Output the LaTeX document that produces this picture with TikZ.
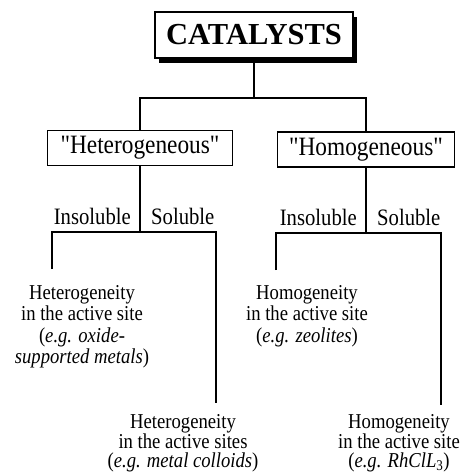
\documentclass[tikz,border=0pt]{standalone}
\usepackage{fontspec}
\setmainfont{Liberation Serif}[Ligatures=TeXOff, FakeStretch=0.88]
\newfontfamily\titlefont{Liberation Serif}[Ligatures=TeXOff]
\usetikzlibrary{positioning}
\usetikzlibrary{shadows}

\tikzset{
  branch/.style={line width=1.4pt},
  titlebox/.style={draw, fill=white, line width=1.4pt, minimum width=198pt, minimum height=46pt,
    inner sep=0pt, font=\titlefont\fontsize{30.5}{34}\selectfont\bfseries,
    drop shadow={shadow xshift=4pt, shadow yshift=-5pt, fill=black, opacity=1}},
  classbox/.style={draw, line width=1.3pt, minimum height=35pt, inner sep=0pt,
    font=\fontsize{26.5}{30}\selectfont},
  sidelabel/.style={inner sep=2pt, font=\fontsize{23.5}{26}\selectfont},
  leaf/.style={align=center, inner sep=2pt, font=\fontsize{21.2}{21.5}\selectfont},
  lowleaf/.style={leaf, font=\fontsize{21.2}{19.8}\selectfont},
}

\begin{document}
\begin{tikzpicture}[x=1pt,y=-1pt]
    \useasboundingbox (0,0) rectangle (462,476);

    % Top of the tree
    \node[titlebox] (cat) at (254,35) {CATALYSTS};
    \node[classbox, minimum width=185pt] (het) at (140,148) {"Heterogeneous"};
    \node[classbox, minimum width=177pt] (hom) at (366,149.5) {"Homogeneous"};

    \coordinate (catsplit) at (254,98);
    \draw[branch] (cat.south) -- (catsplit);
    \draw[branch] (het.north) |- (catsplit) -| (hom.north);

    % Left branch
    \coordinate (hetsplit) at (140,232);
    \coordinate (hetins) at (52,269);
    \coordinate (hetsol) at (216,403);
    \draw[branch] (het.south) -- (hetsplit);
    \draw[branch] (hetins) |- (hetsplit) -| (hetsol);

    \node[sidelabel, above left=5pt and 7pt of hetsplit] (hetinslabel) {Insoluble};
    \node[sidelabel, above right=5pt and 9pt of hetsplit] (hetsollabel) {Soluble};

    \node[leaf, below=14pt of hetins, xshift=30pt] (hetinsleaf)
        {Heterogeneity\\in the active site\\(\textit{e.g. oxide-}\\\textit{supported metals})};
    \node[lowleaf, below=9pt of hetsol, xshift=-33pt] (hetsolleaf)
        {Heterogeneity\\in the active sites\\(\textit{e.g. metal colloids})};

    % Right branch
    \coordinate (homsplit) at (366,233);
    \coordinate (homins) at (276,270);
    \coordinate (homsol) at (441,405);
    \draw[branch] (hom.south) -- (homsplit);
    \draw[branch] (homins) |- (homsplit) -| (homsol);

    \node[sidelabel, above left=5pt and 7pt of homsplit] (hominslabel) {Insoluble};
    \node[sidelabel, above right=5pt and 9pt of homsplit] (homsollabel) {Soluble};

    \node[leaf, below=13pt of homins, xshift=31pt] (hominsleaf)
        {Homogeneity\\in the active site\\(\textit{e.g. zeolites})};
    \node[lowleaf, below=7pt of homsol, xshift=-42pt] (homsolleaf)
        {Homogeneity\\in the active site\\(\textit{e.g. RhClL}\textsubscript{3})};
\end{tikzpicture}
\end{document}
